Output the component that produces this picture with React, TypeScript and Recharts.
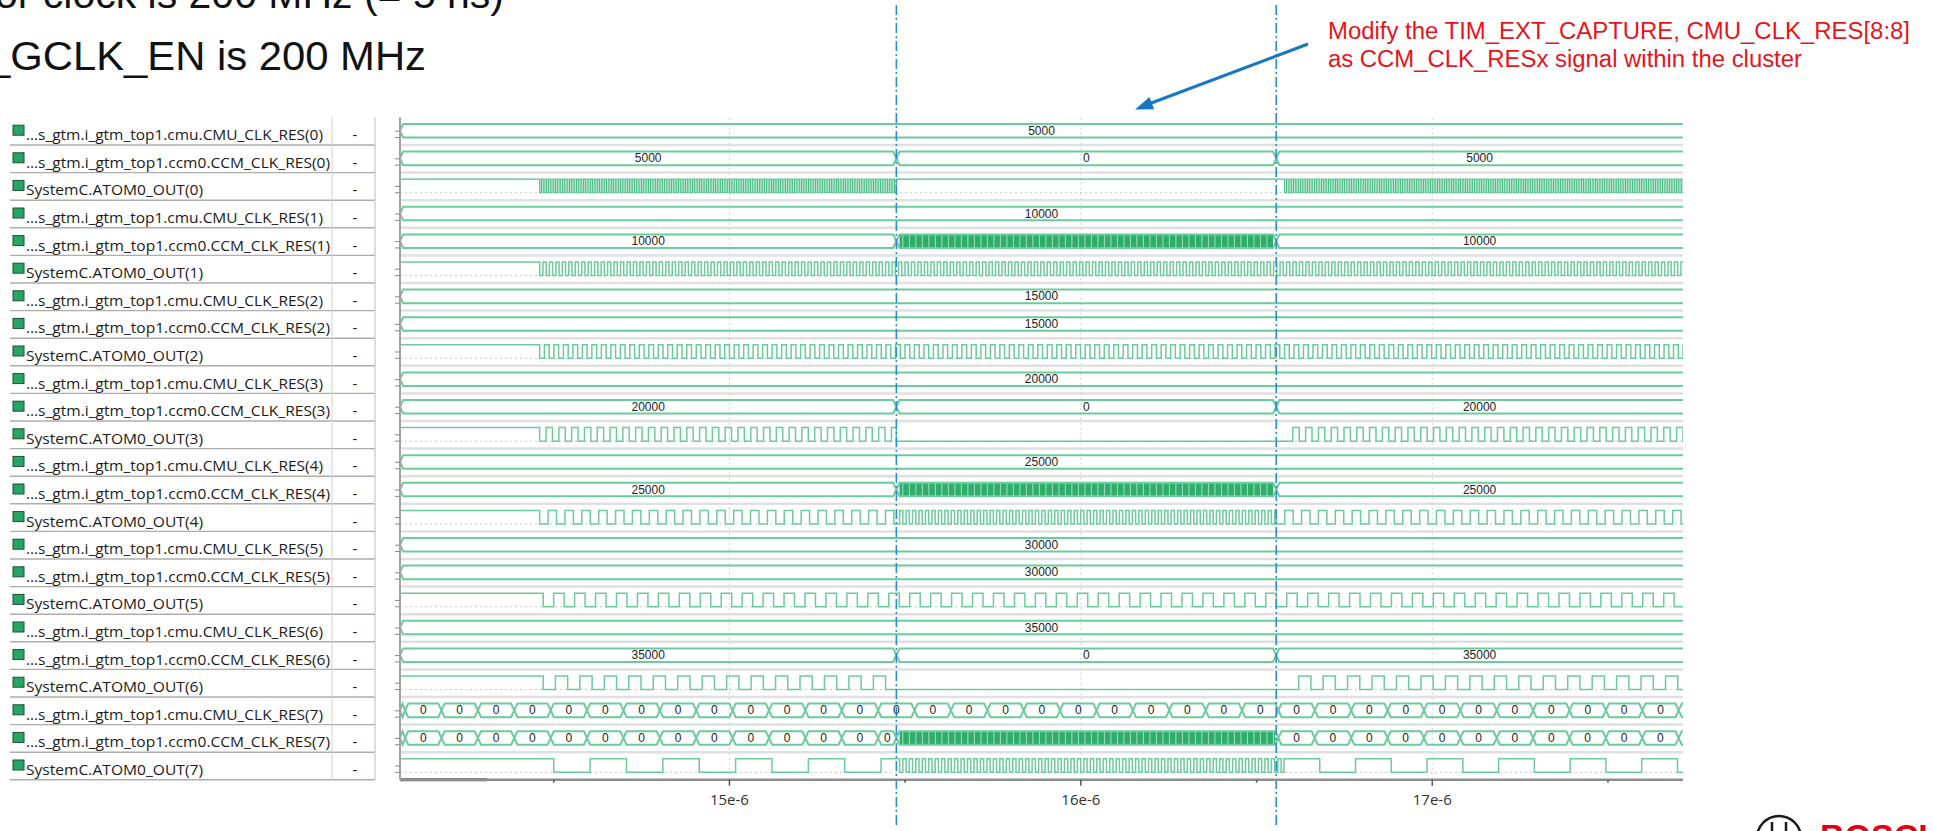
import React from "react"
import { ComposedChart, Line, Scatter, XAxis, YAxis, ReferenceLine } from "recharts"

// ---- time window (µs) and the two cursors ----
const VIEW_START = 14.0625
const VIEW_END = 17.7135
const BUS_END = 17.76 // segments that run on past the right edge
const CURSOR_A = 15.475
const CURSOR_B = 16.556

const axisTicks = [14.5, 15, 15.5, 16, 16.5, 17, 17.5]
const majorTicks = [15, 16, 17]
const majorLabels = ["15e-6", "16e-6", "17e-6"]

const rowNames = [
    "\u2026s_gtm.i_gtm_top1.cmu.CMU_CLK_RES(0)",
    "\u2026s_gtm.i_gtm_top1.ccm0.CCM_CLK_RES(0)",
    "SystemC.ATOM0_OUT(0)",
    "\u2026s_gtm.i_gtm_top1.cmu.CMU_CLK_RES(1)",
    "\u2026s_gtm.i_gtm_top1.ccm0.CCM_CLK_RES(1)",
    "SystemC.ATOM0_OUT(1)",
    "\u2026s_gtm.i_gtm_top1.cmu.CMU_CLK_RES(2)",
    "\u2026s_gtm.i_gtm_top1.ccm0.CCM_CLK_RES(2)",
    "SystemC.ATOM0_OUT(2)",
    "\u2026s_gtm.i_gtm_top1.cmu.CMU_CLK_RES(3)",
    "\u2026s_gtm.i_gtm_top1.ccm0.CCM_CLK_RES(3)",
    "SystemC.ATOM0_OUT(3)",
    "\u2026s_gtm.i_gtm_top1.cmu.CMU_CLK_RES(4)",
    "\u2026s_gtm.i_gtm_top1.ccm0.CCM_CLK_RES(4)",
    "SystemC.ATOM0_OUT(4)",
    "\u2026s_gtm.i_gtm_top1.cmu.CMU_CLK_RES(5)",
    "\u2026s_gtm.i_gtm_top1.ccm0.CCM_CLK_RES(5)",
    "SystemC.ATOM0_OUT(5)",
    "\u2026s_gtm.i_gtm_top1.cmu.CMU_CLK_RES(6)",
    "\u2026s_gtm.i_gtm_top1.ccm0.CCM_CLK_RES(6)",
    "SystemC.ATOM0_OUT(6)",
    "\u2026s_gtm.i_gtm_top1.cmu.CMU_CLK_RES(7)",
    "\u2026s_gtm.i_gtm_top1.ccm0.CCM_CLK_RES(7)",
    "SystemC.ATOM0_OUT(7)",
]

// bus values: [from, to, shown value]; "" = too dense to print
type Seg = [number, number, string]
const RES7_STEP = 0.10355

const cmuClkRes0: Seg[] = [[VIEW_START, BUS_END, "5000"]]
const ccmClkRes0: Seg[] = [[VIEW_START, CURSOR_A, "5000"], [CURSOR_A, CURSOR_B, "0"], [CURSOR_B, BUS_END, "5000"]]
const cmuClkRes1: Seg[] = [[VIEW_START, BUS_END, "10000"]]
const ccmClkRes1: Seg[] = [[VIEW_START, CURSOR_A, "10000"], [CURSOR_A, CURSOR_B, ""], [CURSOR_B, BUS_END, "10000"]]
const cmuClkRes2: Seg[] = [[VIEW_START, BUS_END, "15000"]]
const ccmClkRes2: Seg[] = [[VIEW_START, BUS_END, "15000"]]
const cmuClkRes3: Seg[] = [[VIEW_START, BUS_END, "20000"]]
const ccmClkRes3: Seg[] = [[VIEW_START, CURSOR_A, "20000"], [CURSOR_A, CURSOR_B, "0"], [CURSOR_B, BUS_END, "20000"]]
const cmuClkRes4: Seg[] = [[VIEW_START, BUS_END, "25000"]]
const ccmClkRes4: Seg[] = [[VIEW_START, CURSOR_A, "25000"], [CURSOR_A, CURSOR_B, ""], [CURSOR_B, BUS_END, "25000"]]
const cmuClkRes5: Seg[] = [[VIEW_START, BUS_END, "30000"]]
const ccmClkRes5: Seg[] = [[VIEW_START, BUS_END, "30000"]]
const cmuClkRes6: Seg[] = [[VIEW_START, BUS_END, "35000"]]
const ccmClkRes6: Seg[] = [[VIEW_START, CURSOR_A, "35000"], [CURSOR_A, CURSOR_B, "0"], [CURSOR_B, BUS_END, "35000"]]
const cmuClkRes7: Seg[] = [[VIEW_START, 14.077, "0"], ...ticking(14.077, BUS_END, RES7_STEP, "0")]
const ccmClkRes7: Seg[] = [
    [VIEW_START, 14.077, "0"],
    ...ticking(14.077, 15.423, RES7_STEP, "0"),
    [15.423, CURSOR_A, "0"],
    [CURSOR_A, 16.562, ""],
    ...ticking(16.562, BUS_END, RES7_STEP, "0"),
]

// outputs: [from, to, half period (0 = steady), level after from]
type Phase = [number, number, number, number]
const atomOut0: Phase[] = [[VIEW_START, 14.46, 0, 1], [14.46, CURSOR_A, 0.005, 0], [CURSOR_A, 16.58, 0, 1], [16.58, BUS_END, 0.005, 0]]
const atomOut1: Phase[] = [[VIEW_START, 14.46, 0, 1], [14.46, BUS_END, 0.0092, 0]]
const atomOut2: Phase[] = [[VIEW_START, 14.46, 0, 1], [14.46, BUS_END, 0.0135, 0]]
const atomOut3: Phase[] = [[VIEW_START, 14.46, 0, 1], [14.46, CURSOR_A, 0.0182, 0], [CURSOR_A, 16.585, 0, 0], [16.585, BUS_END, 0.0182, 0]]
const atomOut4: Phase[] = [[VIEW_START, 14.46, 0, 1], [14.46, CURSOR_A, 0.024, 0], [CURSOR_A, CURSOR_B, 0.0092, 0], [CURSOR_B, BUS_END, 0.024, 0]]
const atomOut5: Phase[] = [[VIEW_START, 14.47, 0, 1], [14.47, BUS_END, 0.0298, 0]]
const atomOut6: Phase[] = [[VIEW_START, 14.47, 0, 1], [14.47, 15.46, 0.0348, 0], [15.46, 16.585, 0, 0], [16.585, BUS_END, 0.0348, 0]]
const atomOut7: Phase[] = [[VIEW_START, 14.5, 0, 1], [14.5, CURSOR_A, 0.1035, 0], [CURSOR_A, 16.578, 0.0092, 1], [16.578, BUS_END, 0.1018, 1]]

const busRows: [number, Seg[]][] = [
    [0, cmuClkRes0], [1, ccmClkRes0], [3, cmuClkRes1], [4, ccmClkRes1],
    [6, cmuClkRes2], [7, ccmClkRes2], [9, cmuClkRes3], [10, ccmClkRes3],
    [12, cmuClkRes4], [13, ccmClkRes4], [15, cmuClkRes5], [16, ccmClkRes5],
    [18, cmuClkRes6], [19, ccmClkRes6], [21, cmuClkRes7], [22, ccmClkRes7],
]
const outRows: [number, Phase[]][] = [
    [2, atomOut0], [5, atomOut1], [8, atomOut2], [11, atomOut3],
    [14, atomOut4], [17, atomOut5], [20, atomOut6], [23, atomOut7],
]

// ---- layout ----
const CHART_W = 1933
const CHART_H = 831
const PLOT_LEFT = 400
const PLOT_RIGHT = 1683
const PLOT_TOP = 117.4
const PLOT_BOTTOM = 779.8
const X_AXIS_H = 30
const Y_AXIS_W = 1
const ROW_PX = (PLOT_BOTTOM - PLOT_TOP) / rowNames.length

const HI = 0.24
const LO = 0.73
const MID = 0.485
const CROSS = 0.009
const DENSE_STEP = 0.0185

const GREEN = "#6ccb9c"
const DENSE = "#2fad6b"
const CURSOR = "#2b8bcf"
const FONT = "'Open Sans', 'Noto Sans', sans-serif"
const ARIAL = "'Liberation Sans', Arial, sans-serif"

function ticking(from: number, to: number, step: number, label: string): Seg[] {
    const segs: Seg[] = []
    for (let k = 0; from + k * step < to - 1e-6; k++) {
        segs.push([from + k * step, Math.min(from + (k + 1) * step, to), label])
    }
    return segs
}

function busOutline(row: number, segs: Seg[]) {
    const top: { t: number; y: number }[] = []
    const bottom: { t: number; y: number }[] = []
    segs.forEach(([s, e], k) => {
        const d = Math.min(CROSS, (e - s) / 2)
        if (k === 0) top.push({ t: s, y: row + MID })
        top.push({ t: s + d, y: row + HI }, { t: e - d, y: row + HI }, { t: e, y: row + MID })
    })
    for (let k = segs.length - 1; k >= 0; k--) {
        const [s, e] = segs[k]
        const d = Math.min(CROSS, (e - s) / 2)
        bottom.push({ t: e - d, y: row + LO }, { t: s + d, y: row + LO }, { t: s, y: row + MID })
    }
    return [...top, ...bottom]
}

function wavePoints(row: number, phases: Phase[]) {
    const pts: { t: number; y: number }[] = []
    let level = 1
    phases.forEach(([from, to, half, start]) => {
        level = start
        if (half === 0) {
            pts.push({ t: from, y: row + (level ? HI : LO) })
            return
        }
        for (let k = 0; from + k * half < to - 1e-7; k++) {
            pts.push({ t: from + k * half, y: row + (level ? HI : LO) })
            level = 1 - level
        }
        level = 1 - level
    })
    const last = phases[phases.length - 1]
    pts.push({ t: last[1], y: row + (level ? HI : LO) })
    return pts
}

const labelPoints = busRows.flatMap(([row, segs]) =>
    segs
        .filter(([s, e, v]) => v !== "" && Math.min(e, VIEW_END) - Math.max(s, VIEW_START) > 0.03)
        .map(([s, e, v]) => ({
            t: (Math.max(s, VIEW_START) + Math.min(e, VIEW_END)) / 2,
            y: row + MID,
            label: v,
        }))
)

const denseSegs = busRows.flatMap(([row, segs]) =>
    segs.filter(([, , v]) => v === "").map(([s, e]) => ({ row, s, e }))
)

const denseStripes = denseSegs.flatMap(({ row, s, e }) => {
    const out: { t: number; y: number }[] = []
    for (let k = 1; s + k * DENSE_STEP < e - CROSS; k++) out.push({ t: s + k * DENSE_STEP, y: row + MID })
    return out
})

const rowCenters = rowNames.map((_, i) => i + 0.5)
const cursorTop = (5 - PLOT_TOP) / ROW_PX
const cursorBottom = (827 - PLOT_TOP) / ROW_PX

function RowTick(props: any) {
    const { y, payload } = props
    const i = Math.floor(Number(payload?.value ?? 0))
    const name = rowNames[i] ?? ""
    const half = ROW_PX / 2
    const width = name.startsWith("SystemC") ? 177 : name.includes("ccm0") ? 304 : 297
    const low = y + (LO - 0.5) * ROW_PX
    return (
        <g>
            <rect x={13} y={y - 6} width={11} height={10} fill="#27a565" stroke="#1f4f36" strokeWidth={1} />
            <text x={26} y={y + 9} fontSize={15} fontFamily={FONT} fill="#1b1b1b" textLength={width} lengthAdjust="spacingAndGlyphs">
                {name}
            </text>
            <text x={355} y={y + 9} fontSize={15} fontFamily={FONT} fill="#1b1b1b" textAnchor="middle">-</text>
            <line x1={10} x2={375} y1={y + half} y2={y + half} stroke="#adadad" strokeWidth={1.4} />
            <line x1={332} x2={332} y1={y - half} y2={y + half} stroke="#d2d2d2" strokeWidth={1} />
            <line x1={375} x2={375} y1={y - half} y2={y + half} stroke="#bcbcbc" strokeWidth={1} />
            <line x1={395} x2={400} y1={y} y2={y} stroke="#888" strokeWidth={1} />
            <line x1={395} x2={400} y1={low} y2={low} stroke="#888" strokeWidth={1} />
        </g>
    )
}

function TimeTick(props: any) {
    const { x, y, payload } = props
    const k = majorTicks.indexOf(payload.value)
    return (
        <g>
            <line x1={x} x2={x} y1={y} y2={y + (k >= 0 ? 6 : 3)} stroke="#555" strokeWidth={1.5} />
            {k >= 0 && (
                <text x={x} y={y + 25} textAnchor="middle" fontSize={15} fontFamily={FONT} fill="#333">
                    {majorLabels[k]}
                </text>
            )}
        </g>
    )
}

export default function App() {
    return (
        <div style={{ position: "absolute", left: 0, top: 0, width: CHART_W, height: CHART_H, overflow: "hidden", background: "#fff" }}>
            <ComposedChart
                width={CHART_W}
                height={CHART_H}
                margin={{
                    top: PLOT_TOP,
                    right: CHART_W - PLOT_RIGHT,
                    bottom: CHART_H - PLOT_BOTTOM - X_AXIS_H,
                    left: PLOT_LEFT - Y_AXIS_W,
                }}
            >
                <XAxis
                    type="number"
                    dataKey="t"
                    domain={[VIEW_START, VIEW_END]}
                    allowDataOverflow
                    ticks={axisTicks}
                    interval={0}
                    height={X_AXIS_H}
                    tickSize={0}
                    tickMargin={0}
                    tickLine={false}
                    axisLine={{ stroke: "#8d8d8d", strokeWidth: 2.5 }}
                    tick={<TimeTick />}
                />
                <YAxis
                    type="number"
                    dataKey="y"
                    domain={[0, rowNames.length]}
                    reversed
                    allowDataOverflow
                    ticks={rowCenters}
                    interval={0}
                    width={Y_AXIS_W}
                    tickSize={0}
                    tickMargin={0}
                    tickLine={false}
                    axisLine={{ stroke: "#a3a3a3", strokeWidth: 2 }}
                    tick={<RowTick />}
                />

                {rowNames.slice(1).map((_, i) => (
                    <ReferenceLine key={`sep-${i}`} y={i + 1} stroke="#e0e0e0" strokeWidth={2.5} />
                ))}
                {outRows.map(([row]) => (
                    <ReferenceLine key={`base-${row}`} y={row + LO} stroke="#c9c9c9" strokeDasharray="2 3" />
                ))}
                {majorTicks.map((t) => (
                    <ReferenceLine key={`grid-${t}`} x={t} stroke="#d0d0d0" strokeDasharray="2 3" />
                ))}
                <ReferenceLine
                    segment={[{ x: VIEW_START, y: rowNames.length }, { x: 14.31, y: rowNames.length }]}
                    stroke="#5c5c5c"
                    strokeWidth={3}
                    ifOverflow="visible"
                />

                {denseSegs.map(({ row, s, e }) => (
                    <Line
                        key={`dense-${row}`}
                        data={[{ t: s + CROSS, y: row + MID }, { t: e - CROSS, y: row + MID }]}
                        dataKey="y"
                        type="linear"
                        stroke={DENSE}
                        strokeWidth={12.5}
                        strokeLinecap="butt"
                        dot={false}
                        activeDot={false}
                        isAnimationActive={false}
                    />
                ))}
                {busRows.map(([row, segs]) => (
                    <Line
                        key={`bus-${row}`}
                        data={busOutline(row, segs)}
                        dataKey="y"
                        type="linear"
                        stroke={GREEN}
                        strokeWidth={2}
                        dot={false}
                        activeDot={false}
                        isAnimationActive={false}
                    />
                ))}
                {outRows.map(([row, phases]) => (
                    <Line
                        key={`out-${row}`}
                        data={wavePoints(row, phases)}
                        dataKey="y"
                        type="stepAfter"
                        stroke={row === 2 ? "#4fbf89" : GREEN}
                        strokeWidth={row === 2 ? 1.2 : 1.5}
                        dot={false}
                        activeDot={false}
                        isAnimationActive={false}
                    />
                ))}
                <Scatter
                    data={denseStripes}
                    dataKey="y"
                    isAnimationActive={false}
                    shape={(p: any) => (
                        <line x1={p.cx} x2={p.cx} y1={p.cy - 6} y2={p.cy + 6} stroke="#a4dfc0" strokeWidth={1} />
                    )}
                />
                <Scatter
                    data={labelPoints}
                    dataKey="y"
                    isAnimationActive={false}
                    shape={(p: any) => (
                        <text x={p.cx} y={p.cy + 4} textAnchor="middle" fontSize={12} fontFamily={ARIAL} fill="#222">
                            {p.payload.label}
                        </text>
                    )}
                />

                {[CURSOR_A, CURSOR_B].map((t) => (
                    <ReferenceLine
                        key={`cursor-${t}`}
                        segment={[{ x: t, y: cursorTop }, { x: t, y: cursorBottom }]}
                        stroke={CURSOR}
                        strokeWidth={1.6}
                        strokeDasharray="10 3 2 3"
                        ifOverflow="visible"
                    />
                ))}
            </ComposedChart>

            <svg width={CHART_W} height={CHART_H} style={{ position: "absolute", left: 0, top: 0, pointerEvents: "none" }}>
                <text x={-5} y={8} fontSize={40} fontFamily={ARIAL} fill="#111" textLength={509} lengthAdjust="spacingAndGlyphs">
                    or clock is 200 MHz (= 5 ns)
                </text>
                <text x={-13} y={70} fontSize={40} fontFamily={ARIAL} fill="#111" textLength={439} lengthAdjust="spacingAndGlyphs">
                    _GCLK_EN is 200 MHz
                </text>
                <text x={1328} y={39.3} fontSize={23} fontFamily={ARIAL} fill="#e5141c" textLength={582} lengthAdjust="spacingAndGlyphs">
                    Modify the TIM_EXT_CAPTURE, CMU_CLK_RES[8:8]
                </text>
                <text x={1328} y={67} fontSize={23} fontFamily={ARIAL} fill="#e5141c" textLength={474} lengthAdjust="spacingAndGlyphs">
                    as CCM_CLK_RESx signal within the cluster
                </text>
                <line x1={1308} y1={44} x2={1150} y2={103.5} stroke="#1677c2" strokeWidth={3} />
                <polygon points="1135,109.5 1154.1,109.2 1149.5,97" fill="#1677c2" />
                <circle cx={1779} cy={838} r={22} fill="none" stroke="#1a1a1a" strokeWidth={2.5} />
                <line x1={1772} y1={822} x2={1772} y2={831} stroke="#1a1a1a" strokeWidth={2.5} />
                <line x1={1786} y1={822} x2={1786} y2={831} stroke="#1a1a1a" strokeWidth={2.5} />
                <text x={1820} y={848} fontSize={34} fontWeight="bold" fontFamily={ARIAL} fill="#e20015">BOSCH</text>
            </svg>
        </div>
    )
}
